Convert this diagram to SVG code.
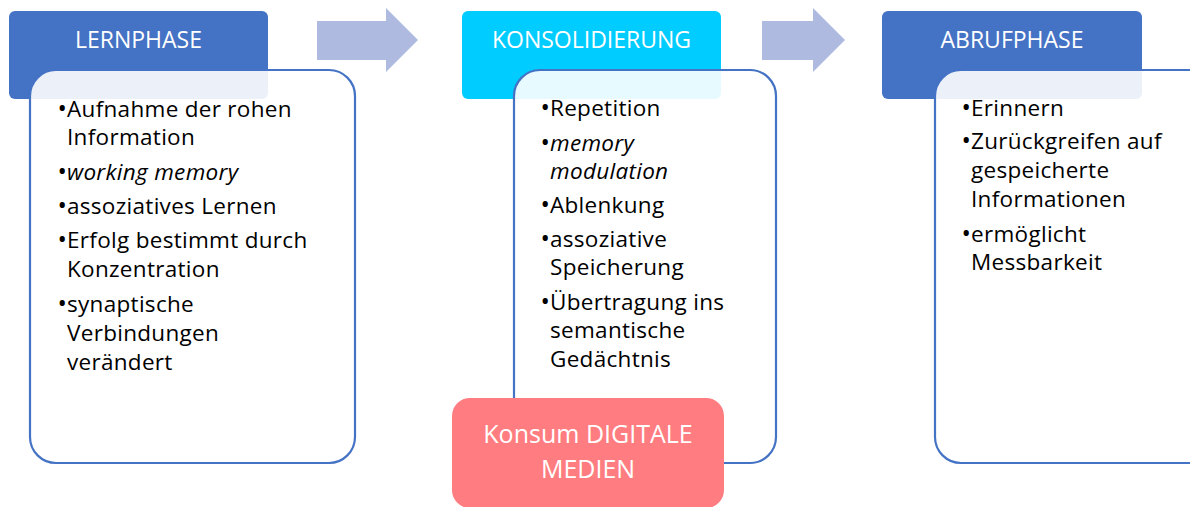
<svg xmlns="http://www.w3.org/2000/svg" width="1190" height="507" viewBox="0 0 1190 507">
<style>
.hdr{stroke:none}
.body{fill:#ffffff;fill-opacity:0.9;stroke:#4472C4;stroke-width:2.2}
.arrow{fill:#AEBADF;stroke:none}
.ht{font-family:"Open Sans",Lato,sans-serif;font-size:23px;fill:#ffffff;text-anchor:middle}
.pt{font-family:"Open Sans",Lato,sans-serif;font-size:25px;fill:#ffffff;text-anchor:middle}
.bt{font-family:"Open Sans",Lato,sans-serif;font-size:22.5px;letter-spacing:0.3px;fill:#000000}
.bl{text-anchor:end;font-size:25px;letter-spacing:0}
.it{font-style:italic}
</style>
<rect width="1190" height="507" fill="#ffffff"/>
<g id="connectors">
<path class="arrow" d="M317,21 H386 V8 L418,40 L386,72 V60 H317 Z"/>
<path class="arrow" d="M762,21 H813 V8 L845,40 L813,72 V60 H762 Z"/>
</g>
<g id="lernphase">
<rect class="hdr" x="9" y="11" width="259" height="88" rx="6" fill="#4472C4"/>
<text class="ht" x="138.5" y="48">LERNPHASE</text>
<rect class="body" x="30" y="70" width="325" height="393" rx="26"/>
<g class="bt">
<text x="67" y="117" class="bl">•</text><text x="67" y="117">Aufnahme der rohen</text>
<text x="67" y="145">Information</text>
<text x="67" y="180" class="bl">•</text><text x="67" y="180" class="it">working memory</text>
<text x="67" y="214" class="bl">•</text><text x="67" y="214">assoziatives Lernen</text>
<text x="67" y="248" class="bl">•</text><text x="67" y="248">Erfolg bestimmt durch</text>
<text x="67" y="277">Konzentration</text>
<text x="67" y="312" class="bl">•</text><text x="67" y="312">synaptische</text>
<text x="67" y="341">Verbindungen</text>
<text x="67" y="370">verändert</text>
</g>
</g>
<g id="konsolidierung">
<rect class="hdr" x="462" y="11" width="259" height="88" rx="6" fill="#00CCFF"/>
<text class="ht" x="591.5" y="48">KONSOLIDIERUNG</text>
<rect class="body" x="514" y="70" width="262" height="393" rx="26"/>
<g class="bt">
<text x="550" y="116" class="bl">•</text><text x="550" y="116">Repetition</text>
<text x="550" y="151" class="bl">•</text><text x="550" y="151" class="it">memory</text>
<text x="550" y="179" class="it">modulation</text>
<text x="550" y="213" class="bl">•</text><text x="550" y="213">Ablenkung</text>
<text x="550" y="247" class="bl">•</text><text x="550" y="247">assoziative</text>
<text x="550" y="275">Speicherung</text>
<text x="550" y="310" class="bl">•</text><text x="550" y="310">Übertragung ins</text>
<text x="550" y="338">semantische</text>
<text x="550" y="367">Gedächtnis</text>
</g>
</g>
<g id="abrufphase">
<rect class="hdr" x="882" y="11" width="260" height="88" rx="6" fill="#4472C4"/>
<text class="ht" x="1012" y="48">ABRUFPHASE</text>
<rect class="body" x="935" y="70" width="290" height="393" rx="26"/>
<g class="bt">
<text x="971" y="116" class="bl">•</text><text x="971" y="116">Erinnern</text>
<text x="971" y="149" class="bl">•</text><text x="971" y="149">Zurückgreifen auf</text>
<text x="971" y="178">gespeicherte</text>
<text x="971" y="207">Informationen</text>
<text x="971" y="242" class="bl">•</text><text x="971" y="242">ermöglicht</text>
<text x="971" y="270">Messbarkeit</text>
</g>
</g>
<g id="digitale-medien">
<rect x="452" y="398" width="272" height="110" rx="18" fill="#FF7C80"/>
<text class="pt" x="588" y="443">Konsum DIGITALE</text>
<text class="pt" x="588" y="478">MEDIEN</text>
</g>
</svg>
